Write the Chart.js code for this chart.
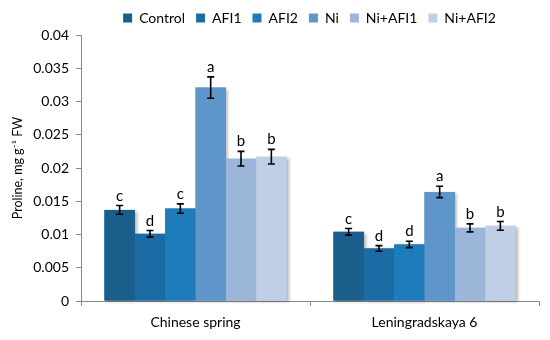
<!DOCTYPE html>
<html><head><meta charset="utf-8">
<script src="https://cdn.jsdelivr.net/npm/chart.js@4"></script>
<style>html,body{margin:0;padding:0;background:#fff}#wrap{width:550px;height:340px}</style>
</head><body><div id="wrap"><canvas id="c" width="550" height="340"></canvas></div>
<script>
const categories = ['Chinese spring', 'Leningradskaya 6'];
const seriesNames = ['Control', 'AFI1', 'AFI2', 'Ni', 'Ni+AFI1', 'Ni+AFI2'];
const control = [0.0137, 0.0104];
const afi1 = [0.0101, 0.0079];
const afi2 = [0.0139, 0.0085];
const ni = [0.0321, 0.0164];
const niAfi1 = [0.0214, 0.0110];
const niAfi2 = [0.0217, 0.0113];
const controlErr = [0.00065, 0.0005];
const afi1Err = [0.0005, 0.00043];
const afi2Err = [0.0007, 0.00048];
const niErr = [0.0016, 0.00085];
const niAfi1Err = [0.0011, 0.0006];
const niAfi2Err = [0.0011, 0.00065];
const controlLetters = ['c', 'c'];
const afi1Letters = ['d', 'd'];
const afi2Letters = ['c', 'd'];
const niLetters = ['a', 'a'];
const niAfi1Letters = ['b', 'b'];
const niAfi2Letters = ['b', 'b'];
const yTickValues = [0, 0.005, 0.01, 0.015, 0.02, 0.025, 0.03, 0.035, 0.04];

const values = [control, afi1, afi2, ni, niAfi1, niAfi2];
const errors = [controlErr, afi1Err, afi2Err, niErr, niAfi1Err, niAfi2Err];
const letters = [controlLetters, afi1Letters, afi2Letters, niLetters, niAfi1Letters, niAfi2Letters];
const colors = ['#1a5e8c', '#1b6ba5', '#1f7cba', '#5e96ca', '#9bb6d8', '#bfcfe5'];

const FONT = 'Lato, "Open Sans", sans-serif';

const datasets = seriesNames.map((name, i) => ({
  label: name,
  data: values[i],
  backgroundColor: colors[i],
  borderWidth: 0,
  errs: errors[i],
  letters: letters[i]
}));

// soft drop shadow drawn beneath all bars
const shadowPlugin = {
  id: 'shadow',
  beforeDatasetsDraw(chart) {
    const ctx = chart.ctx;
    ctx.save();
    ctx.shadowColor = 'rgba(0,0,0,0.3)';
    ctx.shadowOffsetX = 2;
    ctx.shadowOffsetY = 1;
    ctx.shadowBlur = 3;
    chart.data.datasets.forEach((ds, di) => {
      const meta = chart.getDatasetMeta(di);
      meta.data.forEach(bar => {
        const p = bar.getProps(['x', 'y', 'base', 'width'], true);
        ctx.fillStyle = ds.backgroundColor;
        ctx.fillRect(p.x - p.width / 2, p.y, p.width, p.base - p.y);
      });
    });
    ctx.restore();
  }
};

const errPlugin = {
  id: 'errbars',
  afterDatasetsDraw(chart) {
    const ctx = chart.ctx;
    const y = chart.scales.y;
    ctx.save();
    chart.data.datasets.forEach((ds, di) => {
      const meta = chart.getDatasetMeta(di);
      meta.data.forEach((bar, j) => {
        const v = ds.data[j], e = ds.errs[j];
        const x = bar.x;
        const yt = y.getPixelForValue(v + e);
        const yb = y.getPixelForValue(v - e);
        ctx.strokeStyle = '#000';
        ctx.lineWidth = 1.6;
        ctx.beginPath();
        ctx.moveTo(x, yt); ctx.lineTo(x, yb);
        ctx.moveTo(x - 3.5, yt); ctx.lineTo(x + 3.5, yt);
        ctx.moveTo(x - 3.5, yb); ctx.lineTo(x + 3.5, yb);
        ctx.stroke();
        ctx.fillStyle = '#000';
        ctx.font = '15px ' + FONT;
        ctx.textAlign = 'center';
        ctx.textBaseline = 'alphabetic';
        ctx.fillText(ds.letters[j], x, yt - 5);
      });
    });
    ctx.restore();
  }
};

const legendFitPlugin = {
  id: 'legendFit',
  beforeLayout(chart) {
    const lg = chart.legend;
    if (lg && !lg._patched) {
      const f = lg.fit;
      lg.fit = function () { f.call(this); this.height = 35; };
      const d = lg.draw;
      lg.draw = function () {
        const ctx = this.ctx;
        ctx.save();
        ctx.translate(40, 0);
        d.apply(this, arguments);
        ctx.restore();
      };
      lg._patched = true;
    }
  }
};

new Chart(document.getElementById('c'), {
  type: 'bar',
  data: { labels: categories, datasets },
  options: {
    responsive: false,
    animation: false,
    devicePixelRatio: 1,
    layout: { padding: { left: 0, right: 11, top: 0, bottom: 0 } },
    datasets: { bar: { categoryPercentage: 0.795, barPercentage: 1.0 } },
    plugins: {
      tooltip: { enabled: false },
      legend: {
        position: 'top',
        labels: {
          boxWidth: 9, boxHeight: 9, padding: 11, color: '#000',
          font: { family: FONT, size: 14 }
        }
      }
    },
    scales: {
      x: {
        grid: { display: true, drawOnChartArea: false, offset: true, tickLength: 5, color: '#888' },
        border: { color: '#888', width: 1 },
        ticks: { color: '#000', padding: 8, font: { family: FONT, size: 14 } },
        afterFit(s) { s.height = 39; }
      },
      y: {
        min: 0, max: 0.04,
        afterBuildTicks(s) { s.ticks = yTickValues.map(v => ({ value: v })); },
        grid: { display: true, drawOnChartArea: false, tickLength: 5, color: '#888' },
        border: { color: '#888', width: 1 },
        ticks: {
          color: '#000', padding: 7, font: { family: FONT, size: 14 },
          callback: v => String(Number(v.toFixed(4)))
        },
        title: {
          display: true, text: 'Proline, mg g\u207B\u00B9 FW', color: '#000',
          font: { family: FONT, size: 12.5 }, padding: { top: 10, bottom: 0 }
        },
        afterFit(s) { s.width = 81; }
      }
    }
  },
  plugins: [legendFitPlugin, shadowPlugin, errPlugin]
});
</script>
</body></html>
